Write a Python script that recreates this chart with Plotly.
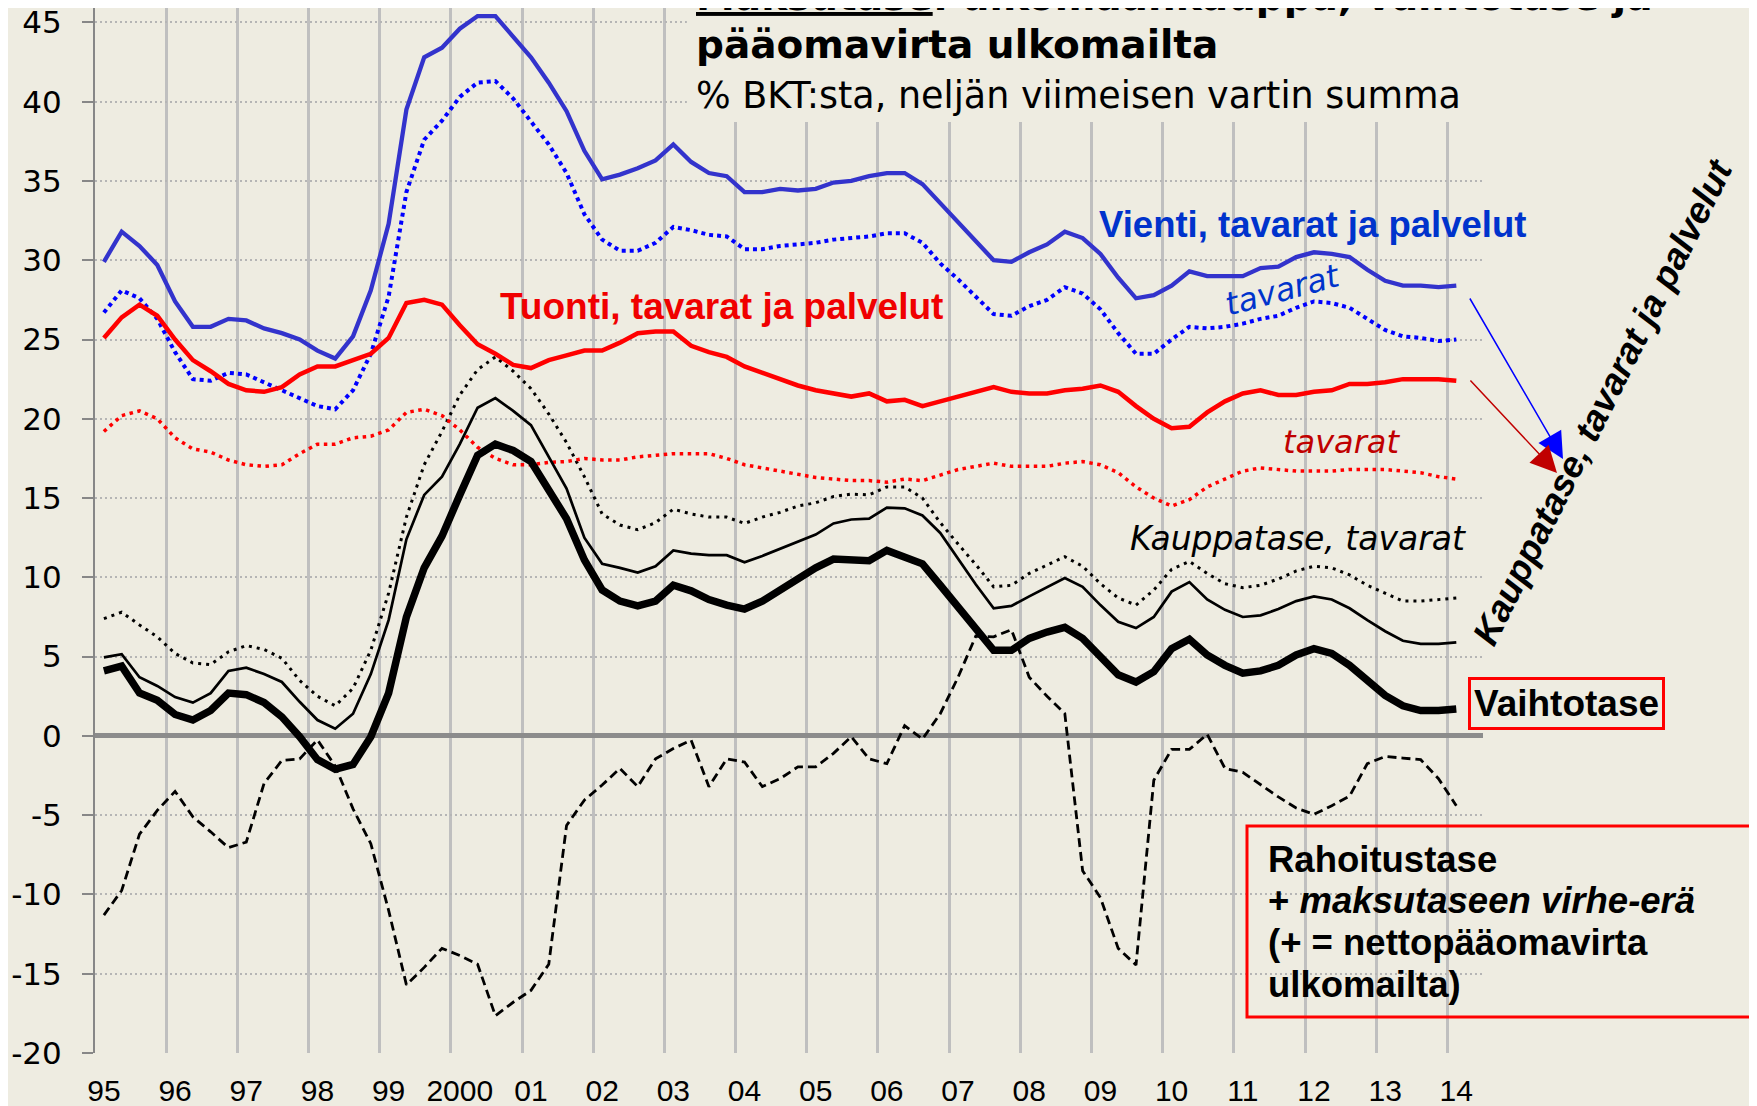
import plotly.graph_objects as go

# quarterly data, 1995Q1 .. 2014Q1, % of GDP, rolling four quarters
YEARS = list(range(1995, 2015))
QUARTERS = [(y, q) for y in YEARS for q in range(1, 5)][:77]
XQ = [y + (q - 1) / 4 for y, q in QUARTERS]

XTICK_TEXT = ["95", "96", "97", "98", "99", "2000", "01", "02", "03", "04",
              "05", "06", "07", "08", "09", "10", "11", "12", "13", "14"]
YTICKS = [-20, -15, -10, -5, 0, 5, 10, 15, 20, 25, 30, 35, 40, 45]

vienti = [29.9, 31.8, 30.9, 29.7, 27.4, 25.8, 25.8, 26.3, 26.2, 25.7,
          25.4, 25.0, 24.3, 23.8, 25.2, 28.1, 32.3, 39.5, 42.8, 43.4,
          44.6, 45.4, 45.4, 44.1, 42.8, 41.2, 39.4, 36.9, 35.1, 35.4,
          35.8, 36.3, 37.3, 36.2, 35.5, 35.3, 34.3, 34.3, 34.5, 34.4,
          34.5, 34.9, 35.0, 35.3, 35.5, 35.5, 34.8, 33.6, 32.4, 31.2,
          30.0, 29.9, 30.5, 31.0, 31.8, 31.4, 30.4, 28.9, 27.6, 27.8,
          28.4, 29.3, 29.0, 29.0, 29.0, 29.5, 29.6, 30.2, 30.5, 30.4,
          30.2, 29.4, 28.7, 28.4, 28.4, 28.3, 28.4]
vienti_tavarat = [26.7, 28.1, 27.6, 26.3, 24.2, 22.5, 22.4, 22.9, 22.8, 22.3,
                  21.8, 21.3, 20.8, 20.6, 21.8, 24.1, 27.7, 34.3, 37.6, 38.8,
                  40.3, 41.2, 41.3, 40.2, 38.8, 37.3, 35.5, 32.9, 31.3, 30.6,
                  30.6, 31.1, 32.1, 31.9, 31.6, 31.5, 30.7, 30.7, 30.9, 31.0,
                  31.1, 31.3, 31.4, 31.5, 31.7, 31.7, 31.1, 29.8, 28.8, 27.7,
                  26.6, 26.5, 27.1, 27.5, 28.3, 27.9, 26.9, 25.4, 24.1, 24.1,
                  25.0, 25.8, 25.7, 25.8, 26.0, 26.3, 26.5, 27.0, 27.4, 27.3,
                  27.0, 26.3, 25.6, 25.2, 25.1, 24.9, 25.0]
tuonti = [25.1, 26.4, 27.2, 26.5, 25.0, 23.7, 23.0, 22.2, 21.8, 21.7,
          22.0, 22.8, 23.3, 23.3, 23.7, 24.1, 25.1, 27.3, 27.5, 27.2,
          25.9, 24.7, 24.1, 23.4, 23.2, 23.7, 24.0, 24.3, 24.3, 24.8,
          25.4, 25.5, 25.5, 24.6, 24.2, 23.9, 23.3, 22.9, 22.5, 22.1,
          21.8, 21.6, 21.4, 21.6, 21.1, 21.2, 20.8, 21.1, 21.4, 21.7,
          22.0, 21.7, 21.6, 21.6, 21.8, 21.9, 22.1, 21.7, 20.8, 20.0,
          19.4, 19.5, 20.4, 21.1, 21.6, 21.8, 21.5, 21.5, 21.7, 21.8,
          22.2, 22.2, 22.3, 22.5, 22.5, 22.5, 22.4]
tuonti_tavarat = [19.2, 20.2, 20.5, 20.0, 18.8, 18.1, 17.9, 17.4, 17.1, 17.0,
                  17.1, 17.8, 18.4, 18.4, 18.8, 18.9, 19.3, 20.4, 20.6, 20.2,
                  19.3, 18.2, 17.5, 17.1, 17.1, 17.25, 17.3, 17.5, 17.4, 17.4,
                  17.6, 17.7, 17.8, 17.8, 17.8, 17.5, 17.1, 16.9, 16.7, 16.45,
                  16.3, 16.2, 16.1, 16.1, 16.0, 16.2, 16.1, 16.45, 16.8, 17.0,
                  17.2, 17.0, 17.0, 17.0, 17.2, 17.3, 17.1, 16.6, 15.7, 15.0,
                  14.5, 14.9, 15.7, 16.2, 16.7, 16.9, 16.8, 16.7, 16.7, 16.7,
                  16.8, 16.8, 16.8, 16.7, 16.6, 16.35, 16.2]
kauppatase_tavarat = [7.4, 7.8, 7.0, 6.25, 5.2, 4.6, 4.5, 5.3, 5.7, 5.45,
                      4.9, 3.5, 2.5, 1.9, 3.0, 5.4, 9.0, 13.8, 17.1, 19.2,
                      21.5, 23.1, 23.9, 23.0, 21.9, 20.3, 18.5, 16.35, 14.0, 13.3,
                      13.0, 13.45, 14.3, 14.0, 13.8, 13.8, 13.4, 13.8, 14.1, 14.5,
                      14.7, 15.1, 15.25, 15.2, 15.7, 15.7, 15.0, 13.45, 12.1, 10.8,
                      9.4, 9.5, 10.25, 10.8, 11.3, 10.7, 9.6, 8.7, 8.25, 9.2,
                      10.5, 11.0, 10.25, 9.6, 9.35, 9.5, 9.9, 10.4, 10.7, 10.6,
                      10.15, 9.5, 9.0, 8.5, 8.5, 8.6, 8.7]
kauppatase = [4.95, 5.15, 3.7, 3.15, 2.45, 2.1, 2.7, 4.1, 4.3, 3.9,
              3.4, 2.15, 1.0, 0.45, 1.4, 3.9, 7.3, 12.4, 15.2, 16.35,
              18.4, 20.7, 21.3, 20.5, 19.6, 17.6, 15.6, 12.5, 10.85, 10.6,
              10.3, 10.7, 11.7, 11.5, 11.4, 11.4, 10.95, 11.35, 11.8, 12.3,
              12.7, 13.4, 13.65, 13.7, 14.4, 14.35, 13.9, 12.8, 11.2, 9.55,
              8.05, 8.2, 8.8, 9.4, 9.95, 9.4, 8.25, 7.2, 6.8, 7.5,
              9.1, 9.7, 8.6, 7.95, 7.5, 7.6, 8.0, 8.5, 8.8, 8.6,
              8.05, 7.3, 6.6, 6.0, 5.8, 5.8, 5.9]
vaihtotase = [4.1, 4.4, 2.7, 2.25, 1.35, 1.0, 1.6, 2.7, 2.6, 2.1,
              1.2, -0.05, -1.5, -2.1, -1.8, -0.05, 2.7, 7.5, 10.6, 12.6,
              15.2, 17.7, 18.4, 18.0, 17.3, 15.5, 13.7, 11.1, 9.2, 8.5,
              8.2, 8.5, 9.5, 9.15, 8.6, 8.25, 8.0, 8.5, 9.2, 10.0,
              10.6, 11.15, 11.15, 11.05, 11.7, 11.25, 10.85, 9.5, 8.15, 6.85,
              5.4, 5.4, 6.15, 6.55, 6.85, 6.15, 5.0, 3.85, 3.4, 4.05,
              5.5, 6.1, 5.1, 4.45, 3.95, 4.1, 4.45, 5.1, 5.5, 5.2,
              4.45, 3.5, 2.55, 1.9, 1.6, 1.6, 1.7]
rahoitustase = [-11.3, -9.75, -6.2, -4.7, -3.5, -5.1, -6.05, -7.05, -6.7, -3.0,
                -1.55, -1.45, -0.25, -1.9, -4.6, -6.8, -11.0, -15.7, -14.6, -13.4,
                -13.85, -14.4, -17.65, -16.8, -16.05, -14.4, -5.65, -4.05, -3.1, -2.05,
                -3.2, -1.45, -0.8, -0.27, -3.2, -1.45, -1.65, -3.2, -2.7, -1.95,
                -1.95, -1.1, -0.05, -1.45, -1.75, 0.65, -0.2, 1.4, 3.7, 6.3,
                6.25, 6.7, 3.7, 2.5, 1.4, -8.5, -10.2, -13.4, -14.45, -2.8,
                -0.85, -0.85, 0.1, -2.05, -2.3, -3.1, -3.85, -4.55, -4.95, -4.4,
                -3.8, -1.75, -1.3, -1.4, -1.5, -2.7, -4.4]

BG = "#EEECE1"
AXIS = "#878787"
ARIAL = "Liberation Sans, Arial, sans-serif"
DEJAVU = "DejaVu Sans, sans-serif"

# the page puts the figure 8px in from the top-left corner; layout below is
# given in screen pixels and shifted back by that amount
OFF = 8
W, H = 1757, 1106
L, R = 95 - OFF, W - (1483 - OFF)
T, B = 0, H - (1053 - OFF)
PW, PH = W - L - R, H - T - B
YTOP = 45 + (22.4 - OFF) / 15.854


def px(x):
    return (x - OFF - L) / PW


def py(y):
    return 1 - (y - OFF - T) / PH


fig = go.Figure()

series = [
    (rahoitustase, dict(color="black", width=2.8, dash="9px,5px")),
    (kauppatase_tavarat, dict(color="black", width=3, dash="3px,5px")),
    (tuonti_tavarat, dict(color="#FF0000", width=3.5, dash="3.5px,4.5px")),
    (vienti_tavarat, dict(color="#0000FF", width=4, dash="4px,4px")),
    (tuonti, dict(color="#FF0000", width=4.5)),
    (vienti, dict(color="#3333CC", width=4.3)),
    (kauppatase, dict(color="black", width=2.7)),
    (vaihtotase, dict(color="black", width=7.5)),
]
for ys, line in series:
    fig.add_trace(go.Scatter(x=XQ, y=ys, mode="lines", line=line,
                             hoverinfo="skip"))

fig.update_xaxes(
    range=[1994.875, 2014.375], automargin=False,
    tickvals=YEARS, ticktext=XTICK_TEXT,
    showgrid=False, zeroline=False, showline=False, ticks="",
    tickfont=dict(family=ARIAL, size=30, color="black"),
    ticklabelstandoff=17, ticklabeloverflow="allow",
    minor=dict(tickvals=[y - 0.125 for y in YEARS[1:]], showgrid=True,
               gridcolor="#BFBFBF", gridwidth=2.5, ticks=""),
)
fig.update_yaxes(
    range=[-20, YTOP], automargin=False,
    tickvals=YTICKS, ticktext=[str(v) for v in YTICKS],
    showgrid=True, gridcolor="#B5B5B5", gridwidth=2, griddash="2px,3px",
    zeroline=True, zerolinecolor="#8C8C8C", zerolinewidth=5,
    showline=True, linecolor=AXIS, linewidth=2,
    ticks="outside", ticklen=11, tickwidth=2, tickcolor=AXIS,
    tickfont=dict(family=DEJAVU, size=31, color="black"),
    ticklabelstandoff=14, ticklabeloverflow="allow",
)

shapes = [
    # title area hides the grid behind the heading
    dict(type="rect", xref="x", yref="y", x0=2003.19, x1=2014.375,
         y0=38.72, y1=YTOP, fillcolor=BG, line=dict(width=0),
         layer="between"),
    dict(type="rect", xref="paper", yref="paper",
         x0=px(1247), x1=px(1755), y0=py(1017), y1=py(826),
         line=dict(color="#FF0000", width=3), fillcolor="rgba(0,0,0,0)"),
]


def label(text, x, y, size, family=ARIAL, color="black", xanchor="left",
          angle=0, **kw):
    return dict(text=text, x=px(x), y=py(y), xref="paper", yref="paper",
                xanchor=xanchor, yanchor="middle", showarrow=False,
                textangle=angle,
                font=dict(family=family, size=size, color=color), **kw)


annotations = [
    label("<b><u>Maksutase</u>: ulkomaankauppa, vaihtotase ja</b>",
          694, -3, 39, DEJAVU),
    label("<b>pääomavirta ulkomailta</b>", 694, 44.5, 39, DEJAVU),
    label("% BKT:sta, neljän viimeisen vartin summa", 694, 95.4, 36.5, DEJAVU),
    label("<b>Vienti, tavarat ja palvelut</b>", 1097, 224.6, 36.5,
          color="#0033CC"),
    label("<i>tavarat</i>", 1282, 290, 32, DEJAVU, color="#0033CC",
          xanchor="center", angle=-15),
    label("<b>Tuonti, tavarat ja palvelut</b>", 498, 306.8, 37,
          color="#F00000"),
    label("<i>tavarat</i>", 1281, 442, 32, DEJAVU, color="#C00000"),
    label("<i>Kauppatase, tavarat</i>", 1128, 538.6, 33, DEJAVU),
    label("<b><i>Kauppatase, tavarat ja palvelut</i></b>", 1602, 402, 36.5,
          xanchor="center", angle=-63.5),
    label("<b>Vaihtotase</b>", 1566.5, 703.5, 37, xanchor="center",
          bordercolor="#FF0000", borderwidth=3, borderpad=3),
    label("<b>Rahoitustase</b>", 1266, 859, 36.5),
    label("<b>+ <i>maksutaseen virhe-erä</i></b>", 1266, 900, 36.5),
    label("<b>(+ = nettopääomavirta</b>", 1266, 942.4, 36.5),
    label("<b>ulkomailta)</b>", 1266, 984, 36.5),
    dict(text="", x=px(1563), y=py(459), xref="paper", yref="paper",
         showarrow=True, ax=-94, ay=-162, arrowcolor="#0000FF",
         arrowwidth=1.5, arrowhead=2, arrowsize=3.5),
    dict(text="", x=px(1557), y=py(473), xref="paper", yref="paper",
         showarrow=True, ax=-88, ay=-94, arrowcolor="#C00000",
         arrowwidth=1.5, arrowhead=2, arrowsize=3.5),
]

fig.update_layout(
    width=W, height=H,
    margin=dict(l=L, r=R, t=T, b=B),
    paper_bgcolor=BG, plot_bgcolor=BG,
    showlegend=False,
    shapes=shapes,
    annotations=annotations,
)

fig.write_html("out.html")
